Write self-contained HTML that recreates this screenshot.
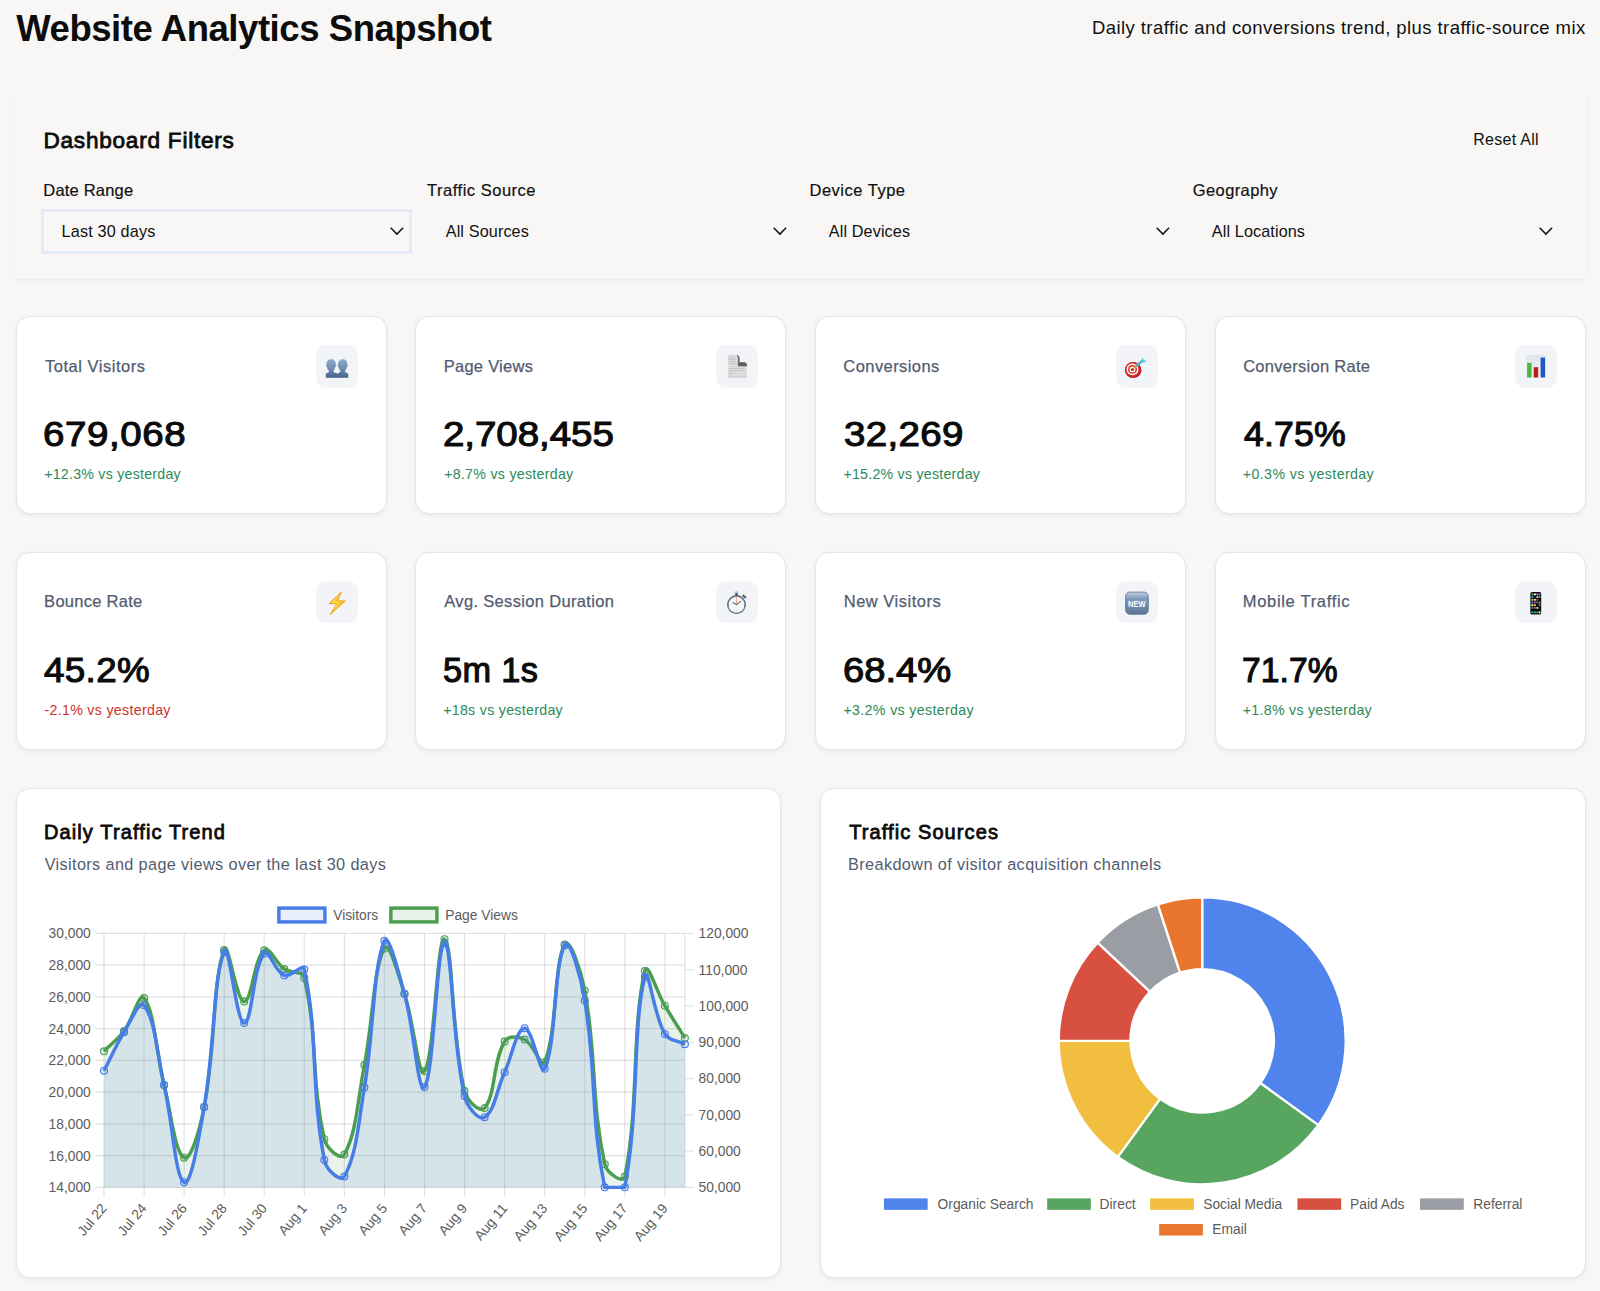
<!DOCTYPE html>
<html><head><meta charset="utf-8"><title>Website Analytics Snapshot</title>
<style>
*{box-sizing:border-box;margin:0;padding:0}
html,body{width:1600px;height:1291px;overflow:hidden;background:#f8f7f5;font-family:"Liberation Sans",sans-serif}
.t{position:absolute;line-height:1;white-space:nowrap}
.a{position:absolute}
.panel{position:absolute;background:#f8f7f5;box-shadow:0 1px 3px rgba(0,0,0,0.05)}
.card{position:absolute;background:#fff;border:1px solid #e6e6e6;border-radius:14px;box-shadow:0 1.5px 4px rgba(0,0,0,0.06)}
.ibox{position:absolute;width:42px;height:42.6px;border-radius:10px;background:#f2f4f7}
svg text{font-family:"Liberation Sans",sans-serif}
</style></head>
<body>
<div class="t" id="x0" style="top:10.50px;font-size:36.5px;color:#0d0d0d;left:16.19px;font-weight:700;letter-spacing:-0.442px;">Website Analytics Snapshot</div>
<div class="t" id="x1" style="top:19.24px;font-size:18.5px;color:#111;left:1091.99px;letter-spacing:0.425px;">Daily traffic and conversions trend, plus traffic-source mix</div>
<div class="panel" style="left:15px;top:92.5px;width:1571.5px;height:186.7px;"></div>
<div class="t" id="x2" style="top:129.87px;font-size:22.6px;color:#0d0d0d;left:43.44px;letter-spacing:0.759px;-webkit-text-stroke:0.8px #0d0d0d;paint-order:stroke fill;">Dashboard Filters</div>
<div class="t" id="x3" style="top:132.46px;font-size:16px;color:#111;left:1473.26px;letter-spacing:0.276px;">Reset All</div>
<div class="t" id="x4" style="top:182.03px;font-size:16.5px;color:#111;left:43.36px;letter-spacing:0.191px;-webkit-text-stroke:0.2px #111;">Date Range</div>
<div class="t" id="x5" style="top:223.29px;font-size:16.2px;color:#111;left:61.56px;letter-spacing:0.183px;">Last 30 days</div>
<svg class="a" style="left:389.5px;top:226px" width="14" height="10" viewBox="0 0 14 10"><path d="M0.7 1.7 L6.9 8.1 L13.1 1.7" fill="none" stroke="#111" stroke-width="1.45"/></svg>
<div class="t" id="x6" style="top:182.03px;font-size:16.5px;color:#111;left:427.12px;letter-spacing:0.511px;-webkit-text-stroke:0.2px #111;">Traffic Source</div>
<div class="t" id="x7" style="top:223.29px;font-size:16.2px;color:#111;left:445.73px;letter-spacing:0.125px;">All Sources</div>
<svg class="a" style="left:772.5px;top:226px" width="14" height="10" viewBox="0 0 14 10"><path d="M0.7 1.7 L6.9 8.1 L13.1 1.7" fill="none" stroke="#111" stroke-width="1.45"/></svg>
<div class="t" id="x8" style="top:182.03px;font-size:16.5px;color:#111;left:809.47px;letter-spacing:0.504px;-webkit-text-stroke:0.2px #111;">Device Type</div>
<div class="t" id="x9" style="top:223.29px;font-size:16.2px;color:#111;left:828.83px;letter-spacing:0.115px;">All Devices</div>
<svg class="a" style="left:1155.6px;top:226px" width="14" height="10" viewBox="0 0 14 10"><path d="M0.7 1.7 L6.9 8.1 L13.1 1.7" fill="none" stroke="#111" stroke-width="1.45"/></svg>
<div class="t" id="x10" style="top:182.03px;font-size:16.5px;color:#111;left:1192.77px;letter-spacing:0.395px;-webkit-text-stroke:0.2px #111;">Geography</div>
<div class="t" id="x11" style="top:223.29px;font-size:16.2px;color:#111;left:1211.87px;letter-spacing:0.109px;">All Locations</div>
<svg class="a" style="left:1538.6px;top:226px" width="14" height="10" viewBox="0 0 14 10"><path d="M0.7 1.7 L6.9 8.1 L13.1 1.7" fill="none" stroke="#111" stroke-width="1.45"/></svg>
<div class="a" style="left:40.5px;top:209px;width:371.1px;height:44.7px;border:3.3px solid #e3e9f7;"></div>
<div class="card" style="left:15.70px;top:316.20px;width:370.9px;height:198.1px;"></div>
<div class="t" id="x12" style="top:357.83px;font-size:16.5px;color:#535c6f;left:44.92px;letter-spacing:0.526px;-webkit-text-stroke:0.25px #535c6f;">Total Visitors</div>
<div class="t" id="x13" style="top:416.47px;font-size:35px;color:#0b0b0b;left:43.36px;letter-spacing:0.518px;-webkit-text-stroke:1.1px #0b0b0b;paint-order:stroke fill;transform:scaleX(1.1);transform-origin:0 0;">679,068</div>
<div class="t" id="x14" style="top:467.38px;font-size:14.2px;color:#2b8a57;left:44.14px;letter-spacing:0.249px;">+12.3% vs yesterday</div>
<div class="ibox" style="left:316.10px;top:345.30px;"></div>
<div class="a" style="left:316.10px;top:345.30px;line-height:0"><svg width="42" height="42" viewBox="0 0 42 42"><defs><linearGradient id="gu" x1="0" y1="0" x2="0" y2="1"><stop offset="0" stop-color="#8eaacb"/><stop offset="0.55" stop-color="#6d8bb0"/><stop offset="1" stop-color="#43618a"/></linearGradient></defs>
<g fill="url(#gu)">
<path d="M15.1 14.3 C18 14.3 19.8 16.4 19.8 19.2 C19.8 19.8 20.3 20 20.2 20.6 C20.1 21.3 19.6 21.4 19.4 21.9 C18.8 23.9 17.9 25 17.6 25.6 L17.6 26.8 C18.2 27.6 19.5 28 21 28.2 L21 32.8 L9.8 32.8 L9.8 28.6 C10.6 28.1 11.8 27.7 12.8 26.9 L12.8 25.6 C12.3 25 11.4 23.9 10.8 21.9 C10.6 21.4 10.1 21.3 10 20.6 C9.9 20 10.4 19.8 10.4 19.2 C10.4 16.4 12.2 14.3 15.1 14.3 Z"/>
<path d="M26.7 14.3 C29.6 14.3 31.4 16.4 31.4 19.2 C31.4 19.8 31.9 20 31.8 20.6 C31.7 21.3 31.2 21.4 31 21.9 C30.4 23.9 29.5 25 29.2 25.6 L29.2 26.9 C30.2 27.7 31.4 28.1 32.2 28.6 L32.2 32.8 L19.5 32.8 L19.5 29.2 C21.2 28.6 23.3 27.9 24.4 26.8 L24.4 25.6 C23.9 25 23 23.9 22.4 21.9 C22.2 21.4 21.7 21.3 21.6 20.6 C21.5 20 22 19.8 22 19.2 C22 16.4 23.8 14.3 26.7 14.3 Z"/>
</g></svg></div>
<div class="card" style="left:415.40px;top:316.20px;width:370.9px;height:198.1px;"></div>
<div class="t" id="x15" style="top:357.83px;font-size:16.5px;color:#535c6f;left:443.71px;letter-spacing:0.262px;-webkit-text-stroke:0.25px #535c6f;">Page Views</div>
<div class="t" id="x16" style="top:416.47px;font-size:35px;color:#0b0b0b;left:442.53px;letter-spacing:-0.054px;-webkit-text-stroke:1.1px #0b0b0b;paint-order:stroke fill;transform:scaleX(1.1);transform-origin:0 0;">2,708,455</div>
<div class="t" id="x17" style="top:467.38px;font-size:14.2px;color:#2b8a57;left:444.15px;letter-spacing:0.283px;">+8.7% vs yesterday</div>
<div class="ibox" style="left:715.80px;top:345.30px;"></div>
<div class="a" style="left:715.80px;top:345.30px;line-height:0"><svg width="42" height="42" viewBox="0 0 42 42"><defs><linearGradient id="gp" x1="0" y1="0" x2="1" y2="0"><stop offset="0" stop-color="#9a9a9a"/><stop offset="1" stop-color="#555"/></linearGradient></defs>
<path d="M11.9 9.8 L20.6 9.8 Q23 10 23.3 13 L23.3 17.2 L28.5 17.2 Q30.8 17.6 30.8 20 L30.8 32.5 L11.9 32.5 Z" fill="#dcdcdc"/>
<path d="M20.3 9.8 Q23.3 9.9 23.6 13.2 L23.6 21.2 L21.8 21.2 L21.8 13.2 Q21.6 11 20.3 9.8 Z" fill="url(#gp)"/>
<path d="M23.3 17.2 L28.3 17.2 Q30.8 17.4 31 20.8 L31 21.2 L23.3 21.2 Z" fill="#5e5e5e"/>
<g stroke="#bdbdbd" stroke-width="0.7"><line x1="13" y1="12.5" x2="19.5" y2="12.5"/><line x1="13" y1="14.5" x2="20" y2="14.5"/><line x1="13" y1="16.5" x2="20" y2="16.5"/><line x1="13" y1="18.5" x2="20" y2="18.5"/><line x1="13" y1="23.5" x2="29" y2="23.5"/><line x1="13" y1="25.5" x2="28" y2="25.5"/><line x1="13" y1="28.5" x2="17" y2="28.5"/></g>
<rect x="11.9" y="31.6" width="18.9" height="0.9" fill="#c8c8c8"/></svg></div>
<div class="card" style="left:815.10px;top:316.20px;width:370.9px;height:198.1px;"></div>
<div class="t" id="x18" style="top:357.83px;font-size:16.5px;color:#535c6f;left:843.37px;letter-spacing:0.423px;-webkit-text-stroke:0.25px #535c6f;">Conversions</div>
<div class="t" id="x19" style="top:416.47px;font-size:35px;color:#0b0b0b;left:843.72px;letter-spacing:0.305px;-webkit-text-stroke:1.1px #0b0b0b;paint-order:stroke fill;transform:scaleX(1.1);transform-origin:0 0;">32,269</div>
<div class="t" id="x20" style="top:467.38px;font-size:14.2px;color:#2b8a57;left:843.43px;letter-spacing:0.241px;">+15.2% vs yesterday</div>
<div class="ibox" style="left:1115.50px;top:345.30px;"></div>
<div class="a" style="left:1115.50px;top:345.30px;line-height:0"><svg width="42" height="42" viewBox="0 0 42 42"><g transform="translate(-0.6,0.5)"><ellipse cx="17.8" cy="24.6" rx="8.3" ry="8" fill="#b81818"/><ellipse cx="17.3" cy="24.1" rx="7.6" ry="7.4" fill="#d42a2a"/>
<ellipse cx="17.1" cy="23.9" rx="6" ry="5.8" fill="#fff"/><ellipse cx="17.1" cy="23.9" rx="4.5" ry="4.3" fill="#d42a2a"/><ellipse cx="17.1" cy="23.9" rx="3" ry="2.9" fill="#fff"/><ellipse cx="17.1" cy="23.9" rx="1.6" ry="1.5" fill="#c81e1e"/>
<path d="M17.6 23.4 L22.2 19.2" stroke="#e8b030" stroke-width="1.3"/><path d="M21.4 20 L26.3 15.8" stroke="#56b6c6" stroke-width="2.6" stroke-linecap="round"/>
<path d="M25.2 16.4 L27.3 11.8 L28.3 14.8 L31.8 15.6 L26.6 17.6 Z" fill="#5ec0d0"/></g></svg></div>
<div class="card" style="left:1214.80px;top:316.20px;width:370.9px;height:198.1px;"></div>
<div class="t" id="x21" style="top:357.83px;font-size:16.5px;color:#535c6f;left:1243.15px;letter-spacing:0.285px;-webkit-text-stroke:0.25px #535c6f;">Conversion Rate</div>
<div class="t" id="x22" style="top:416.47px;font-size:35px;color:#0b0b0b;left:1243.82px;letter-spacing:0.149px;-webkit-text-stroke:1.1px #0b0b0b;paint-order:stroke fill;transform:scaleX(1.02);transform-origin:0 0;">4.75%</div>
<div class="t" id="x23" style="top:467.38px;font-size:14.2px;color:#2b8a57;left:1242.81px;letter-spacing:0.394px;">+0.3% vs yesterday</div>
<div class="ibox" style="left:1515.20px;top:345.30px;"></div>
<div class="a" style="left:1515.20px;top:345.30px;line-height:0"><svg width="42" height="42" viewBox="0 0 42 42"><defs><linearGradient id="gb" x1="0" y1="0" x2="0" y2="1"><stop offset="0" stop-color="#dde5ee"/><stop offset="1" stop-color="#eef2f6"/></linearGradient></defs>
<rect x="11.1" y="9.8" width="19.4" height="23.2" fill="url(#gb)"/>
<rect x="12.1" y="17.9" width="4.5" height="14.6" fill="#4cb83c"/><rect x="18.7" y="22.2" width="4.5" height="10.3" fill="#b52018"/><rect x="25.6" y="12.6" width="4.5" height="19.9" fill="#2057c6"/></svg></div>
<div class="card" style="left:15.70px;top:551.50px;width:370.9px;height:198.1px;"></div>
<div class="t" id="x24" style="top:593.03px;font-size:16.5px;color:#535c6f;left:44.12px;letter-spacing:0.270px;-webkit-text-stroke:0.25px #535c6f;">Bounce Rate</div>
<div class="t" id="x25" style="top:651.67px;font-size:35px;color:#0b0b0b;left:43.82px;letter-spacing:0.343px;-webkit-text-stroke:1.1px #0b0b0b;paint-order:stroke fill;transform:scaleX(1.05);transform-origin:0 0;">45.2%</div>
<div class="t" id="x26" style="top:702.58px;font-size:14.2px;color:#cf2f2a;left:44.46px;letter-spacing:0.314px;">-2.1% vs yesterday</div>
<div class="ibox" style="left:316.10px;top:580.50px;"></div>
<div class="a" style="left:316.10px;top:580.50px;line-height:0"><svg width="42" height="42" viewBox="0 0 42 42"><path d="M25.4 10.9 L13.1 22.7 L21.1 22.7 L14.1 33.5 L29.2 19.9 L21.6 19.9 Z" fill="#f9c724" stroke="#ee9e1a" stroke-width="1" stroke-linejoin="round"/>
<path d="M23.2 14.2 L16.6 21.4 L22.6 21.4 L18.9 27.6" fill="none" stroke="#fde68a" stroke-width="0.9" stroke-linejoin="round"/></svg></div>
<div class="card" style="left:415.40px;top:551.50px;width:370.9px;height:198.1px;"></div>
<div class="t" id="x27" style="top:593.03px;font-size:16.5px;color:#535c6f;left:444.30px;letter-spacing:0.329px;-webkit-text-stroke:0.25px #535c6f;">Avg. Session Duration</div>
<div class="t" id="x28" style="top:651.67px;font-size:35px;color:#0b0b0b;left:443.36px;letter-spacing:0.374px;-webkit-text-stroke:1.1px #0b0b0b;paint-order:stroke fill;transform:scaleX(0.98);transform-origin:0 0;">5m 1s</div>
<div class="t" id="x29" style="top:702.58px;font-size:14.2px;color:#2b8a57;left:443.16px;letter-spacing:0.300px;">+18s vs yesterday</div>
<div class="ibox" style="left:715.80px;top:580.50px;"></div>
<div class="a" style="left:715.80px;top:580.50px;line-height:0"><svg width="42" height="42" viewBox="0 0 42 42"><g transform="translate(-0.8,-0.9)"><rect x="19.6" y="11.2" width="3.4" height="2.2" rx="1" fill="#b4bcc8"/><rect x="20" y="13.2" width="2.6" height="1.8" fill="#3e4655"/>
<path d="M28.2 15.6 l1.8 1.6" stroke="#4e5868" stroke-width="2.2" stroke-linecap="round"/>
<circle cx="21.3" cy="24.5" r="9.5" fill="#5c6678"/><path d="M12.6 27 A9.5 9.5 0 0 0 30 27.5 L28.5 27 A8 8 0 0 1 14 26.6 Z" fill="#8fa3c0"/><circle cx="21.3" cy="24.5" r="7.9" fill="#f8f8f8"/>
<g stroke="#b8bec8" stroke-width="0.6"><line x1="21.3" y1="30.5" x2="21.3" y2="31.6"/><line x1="14.4" y1="24.5" x2="15.4" y2="24.5"/><line x1="27.2" y1="24.5" x2="28.2" y2="24.5"/></g>
<path d="M21.3 17.4 V24.6" stroke="#e89070" stroke-width="0.8"/><path d="M17.4 22.3 L21.3 24.6 L25.9 21" fill="none" stroke="#2b3240" stroke-width="0.9"/></g></svg></div>
<div class="card" style="left:815.10px;top:551.50px;width:370.9px;height:198.1px;"></div>
<div class="t" id="x30" style="top:593.03px;font-size:16.5px;color:#535c6f;left:843.72px;letter-spacing:0.505px;-webkit-text-stroke:0.25px #535c6f;">New Visitors</div>
<div class="t" id="x31" style="top:651.67px;font-size:35px;color:#0b0b0b;left:843.10px;letter-spacing:-0.022px;-webkit-text-stroke:1.1px #0b0b0b;paint-order:stroke fill;transform:scaleX(1.09);transform-origin:0 0;">68.4%</div>
<div class="t" id="x32" style="top:702.58px;font-size:14.2px;color:#2b8a57;left:843.43px;letter-spacing:0.358px;">+3.2% vs yesterday</div>
<div class="ibox" style="left:1115.50px;top:580.50px;"></div>
<div class="a" style="left:1115.50px;top:580.50px;line-height:0"><svg width="42" height="42" viewBox="0 0 42 42"><defs><linearGradient id="gn" x1="0" y1="0" x2="0" y2="1"><stop offset="0" stop-color="#c3d1e2"/><stop offset="0.3" stop-color="#7f9bbd"/><stop offset="1" stop-color="#5f7798"/></linearGradient></defs>
<rect x="9.6" y="11.1" width="22.7" height="22.2" rx="4.2" fill="url(#gn)" stroke="#4d6586" stroke-width="0.7"/>
<text x="12.0" y="25.8" font-family="Liberation Sans" font-weight="700" font-size="9.4" fill="#fff" textLength="17.6" lengthAdjust="spacingAndGlyphs">NEW</text></svg></div>
<div class="card" style="left:1214.80px;top:551.50px;width:370.9px;height:198.1px;"></div>
<div class="t" id="x33" style="top:593.03px;font-size:16.5px;color:#535c6f;left:1242.74px;letter-spacing:0.692px;-webkit-text-stroke:0.25px #535c6f;">Mobile Traffic</div>
<div class="t" id="x34" style="top:651.67px;font-size:35px;color:#0b0b0b;left:1241.93px;letter-spacing:0.121px;-webkit-text-stroke:1.1px #0b0b0b;paint-order:stroke fill;transform:scaleX(0.96);transform-origin:0 0;">71.7%</div>
<div class="t" id="x35" style="top:702.58px;font-size:14.2px;color:#2b8a57;left:1242.81px;letter-spacing:0.276px;">+1.8% vs yesterday</div>
<div class="ibox" style="left:1515.20px;top:580.50px;"></div>
<div class="a" style="left:1515.20px;top:580.50px;line-height:0"><svg width="42" height="42" viewBox="0 0 42 42"><rect x="15.4" y="10.9" width="10.8" height="22.6" rx="1.6" fill="#060606"/>
<g><rect x="16.4" y="12.4" width="1.9" height="1.9" fill="#3fc24a"/><rect x="18.9" y="12.4" width="1.9" height="1.9" fill="#fff"/><rect x="21.4" y="12.4" width="1.9" height="1.9" fill="#c084e0"/><rect x="23.8" y="12.4" width="1.6" height="1.9" fill="#9a9a9a"/>
<rect x="16.4" y="15.1" width="1.9" height="1.9" fill="#2a9fe0"/><rect x="21.4" y="15.1" width="1.9" height="1.9" fill="#d8c090"/><rect x="23.8" y="15.1" width="1.6" height="1.9" fill="#3ab8d8"/>
<rect x="16.4" y="17.8" width="1.9" height="1.9" fill="#e8c830"/><rect x="18.9" y="17.8" width="1.9" height="1.9" fill="#eee"/><rect x="21.4" y="17.8" width="1.9" height="1.9" fill="#d04a3a"/>
<rect x="16.4" y="20.5" width="1.9" height="1.9" fill="#22b0b0"/><rect x="18.9" y="20.5" width="1.9" height="1.9" fill="#d030c8"/><rect x="21.4" y="20.5" width="1.9" height="1.9" fill="#2a90d0"/><rect x="23.8" y="20.5" width="1.6" height="1.9" fill="#f08a10"/>
<rect x="16.4" y="23.2" width="1.9" height="1.9" fill="#eee"/><rect x="18.9" y="23.2" width="1.9" height="1.9" fill="#e8d030"/><rect x="23.8" y="23.2" width="1.6" height="1.9" fill="#888"/>
<rect x="16.4" y="25.9" width="1.9" height="1.9" fill="#2a90d0"/><rect x="18.9" y="25.9" width="1.9" height="1.9" fill="#d04a3a"/><rect x="21.4" y="25.9" width="1.9" height="1.9" fill="#ddd"/>
<rect x="16.4" y="30.4" width="1.9" height="1.9" fill="#3fc24a"/><rect x="18.9" y="30.4" width="1.9" height="1.9" fill="#35b0f0"/><rect x="21.4" y="30.4" width="1.9" height="1.9" fill="#3fc24a"/><rect x="23.8" y="30.4" width="1.6" height="1.9" fill="#fff"/></g></svg></div>
<div class="card" style="left:16.3px;top:787.9px;width:764.95px;height:489.9px;"></div>
<div class="card" style="left:819.5px;top:787.9px;width:766px;height:489.9px;"></div>
<div class="t" id="x36" style="top:822.47px;font-size:20.0px;color:#0b0b0b;left:43.92px;letter-spacing:1.124px;-webkit-text-stroke:0.8px #0d0d0d;paint-order:stroke fill;">Daily Traffic Trend</div>
<div class="t" id="x37" style="top:856.40px;font-size:16.3px;color:#535c6f;left:44.66px;letter-spacing:0.357px;">Visitors and page views over the last 30 days</div>
<div class="t" id="x38" style="top:822.47px;font-size:20.0px;color:#0b0b0b;left:849.22px;letter-spacing:1.092px;-webkit-text-stroke:0.8px #0d0d0d;paint-order:stroke fill;">Traffic Sources</div>
<div class="t" id="x39" style="top:856.40px;font-size:16.3px;color:#535c6f;left:847.97px;letter-spacing:0.385px;">Breakdown of visitor acquisition channels</div>
<svg class="a" style="left:0;top:0" width="1600" height="1291" viewBox="0 0 1600 1291">
<defs><clipPath id="ca"><rect x="102.00" y="931.40" width="584.90" height="258.00"/></clipPath></defs>
<line x1="95.5" y1="933.40" x2="684.9" y2="933.40" stroke="rgba(0,0,0,0.115)" stroke-width="1.15"/>
<text x="90.8" y="938.30" text-anchor="end" font-size="13.8" fill="#5c5c5c">30,000</text>
<line x1="95.5" y1="965.15" x2="684.9" y2="965.15" stroke="rgba(0,0,0,0.115)" stroke-width="1.15"/>
<text x="90.8" y="970.05" text-anchor="end" font-size="13.8" fill="#5c5c5c">28,000</text>
<line x1="95.5" y1="996.90" x2="684.9" y2="996.90" stroke="rgba(0,0,0,0.115)" stroke-width="1.15"/>
<text x="90.8" y="1001.80" text-anchor="end" font-size="13.8" fill="#5c5c5c">26,000</text>
<line x1="95.5" y1="1028.65" x2="684.9" y2="1028.65" stroke="rgba(0,0,0,0.115)" stroke-width="1.15"/>
<text x="90.8" y="1033.55" text-anchor="end" font-size="13.8" fill="#5c5c5c">24,000</text>
<line x1="95.5" y1="1060.40" x2="684.9" y2="1060.40" stroke="rgba(0,0,0,0.115)" stroke-width="1.15"/>
<text x="90.8" y="1065.30" text-anchor="end" font-size="13.8" fill="#5c5c5c">22,000</text>
<line x1="95.5" y1="1092.15" x2="684.9" y2="1092.15" stroke="rgba(0,0,0,0.115)" stroke-width="1.15"/>
<text x="90.8" y="1097.05" text-anchor="end" font-size="13.8" fill="#5c5c5c">20,000</text>
<line x1="95.5" y1="1123.90" x2="684.9" y2="1123.90" stroke="rgba(0,0,0,0.115)" stroke-width="1.15"/>
<text x="90.8" y="1128.80" text-anchor="end" font-size="13.8" fill="#5c5c5c">18,000</text>
<line x1="95.5" y1="1155.65" x2="684.9" y2="1155.65" stroke="rgba(0,0,0,0.115)" stroke-width="1.15"/>
<text x="90.8" y="1160.55" text-anchor="end" font-size="13.8" fill="#5c5c5c">16,000</text>
<line x1="95.5" y1="1187.40" x2="684.9" y2="1187.40" stroke="rgba(0,0,0,0.115)" stroke-width="1.15"/>
<text x="90.8" y="1192.30" text-anchor="end" font-size="13.8" fill="#5c5c5c">14,000</text>
<line x1="104.00" y1="933.4" x2="104.00" y2="1196.5" stroke="rgba(0,0,0,0.115)" stroke-width="1.15"/>
<text transform="translate(107.50,1208.6) rotate(-50)" text-anchor="end" font-size="13.8" fill="#5c5c5c">Jul 22</text>
<line x1="144.06" y1="933.4" x2="144.06" y2="1196.5" stroke="rgba(0,0,0,0.115)" stroke-width="1.15"/>
<text transform="translate(147.56,1208.6) rotate(-50)" text-anchor="end" font-size="13.8" fill="#5c5c5c">Jul 24</text>
<line x1="184.12" y1="933.4" x2="184.12" y2="1196.5" stroke="rgba(0,0,0,0.115)" stroke-width="1.15"/>
<text transform="translate(187.62,1208.6) rotate(-50)" text-anchor="end" font-size="13.8" fill="#5c5c5c">Jul 26</text>
<line x1="224.19" y1="933.4" x2="224.19" y2="1196.5" stroke="rgba(0,0,0,0.115)" stroke-width="1.15"/>
<text transform="translate(227.69,1208.6) rotate(-50)" text-anchor="end" font-size="13.8" fill="#5c5c5c">Jul 28</text>
<line x1="264.25" y1="933.4" x2="264.25" y2="1196.5" stroke="rgba(0,0,0,0.115)" stroke-width="1.15"/>
<text transform="translate(267.75,1208.6) rotate(-50)" text-anchor="end" font-size="13.8" fill="#5c5c5c">Jul 30</text>
<line x1="304.31" y1="933.4" x2="304.31" y2="1196.5" stroke="rgba(0,0,0,0.115)" stroke-width="1.15"/>
<text transform="translate(307.81,1208.6) rotate(-50)" text-anchor="end" font-size="13.8" fill="#5c5c5c">Aug 1</text>
<line x1="344.37" y1="933.4" x2="344.37" y2="1196.5" stroke="rgba(0,0,0,0.115)" stroke-width="1.15"/>
<text transform="translate(347.87,1208.6) rotate(-50)" text-anchor="end" font-size="13.8" fill="#5c5c5c">Aug 3</text>
<line x1="384.43" y1="933.4" x2="384.43" y2="1196.5" stroke="rgba(0,0,0,0.115)" stroke-width="1.15"/>
<text transform="translate(387.93,1208.6) rotate(-50)" text-anchor="end" font-size="13.8" fill="#5c5c5c">Aug 5</text>
<line x1="424.50" y1="933.4" x2="424.50" y2="1196.5" stroke="rgba(0,0,0,0.115)" stroke-width="1.15"/>
<text transform="translate(428.00,1208.6) rotate(-50)" text-anchor="end" font-size="13.8" fill="#5c5c5c">Aug 7</text>
<line x1="464.56" y1="933.4" x2="464.56" y2="1196.5" stroke="rgba(0,0,0,0.115)" stroke-width="1.15"/>
<text transform="translate(468.06,1208.6) rotate(-50)" text-anchor="end" font-size="13.8" fill="#5c5c5c">Aug 9</text>
<line x1="504.62" y1="933.4" x2="504.62" y2="1196.5" stroke="rgba(0,0,0,0.115)" stroke-width="1.15"/>
<text transform="translate(508.12,1208.6) rotate(-50)" text-anchor="end" font-size="13.8" fill="#5c5c5c">Aug 11</text>
<line x1="544.68" y1="933.4" x2="544.68" y2="1196.5" stroke="rgba(0,0,0,0.115)" stroke-width="1.15"/>
<text transform="translate(548.18,1208.6) rotate(-50)" text-anchor="end" font-size="13.8" fill="#5c5c5c">Aug 13</text>
<line x1="584.74" y1="933.4" x2="584.74" y2="1196.5" stroke="rgba(0,0,0,0.115)" stroke-width="1.15"/>
<text transform="translate(588.24,1208.6) rotate(-50)" text-anchor="end" font-size="13.8" fill="#5c5c5c">Aug 15</text>
<line x1="624.81" y1="933.4" x2="624.81" y2="1196.5" stroke="rgba(0,0,0,0.115)" stroke-width="1.15"/>
<text transform="translate(628.31,1208.6) rotate(-50)" text-anchor="end" font-size="13.8" fill="#5c5c5c">Aug 17</text>
<line x1="664.87" y1="933.4" x2="664.87" y2="1196.5" stroke="rgba(0,0,0,0.115)" stroke-width="1.15"/>
<text transform="translate(668.37,1208.6) rotate(-50)" text-anchor="end" font-size="13.8" fill="#5c5c5c">Aug 19</text>
<line x1="684.9" y1="933.4" x2="684.9" y2="1187.4" stroke="rgba(0,0,0,0.115)" stroke-width="1.15"/>
<line x1="684.9" y1="933.40" x2="694" y2="933.40" stroke="rgba(0,0,0,0.115)" stroke-width="1.15"/>
<text x="698.6" y="938.30" font-size="13.8" fill="#5c5c5c">120,000</text>
<line x1="684.9" y1="969.69" x2="694" y2="969.69" stroke="rgba(0,0,0,0.115)" stroke-width="1.15"/>
<text x="698.6" y="974.59" font-size="13.8" fill="#5c5c5c">110,000</text>
<line x1="684.9" y1="1005.97" x2="694" y2="1005.97" stroke="rgba(0,0,0,0.115)" stroke-width="1.15"/>
<text x="698.6" y="1010.87" font-size="13.8" fill="#5c5c5c">100,000</text>
<line x1="684.9" y1="1042.26" x2="694" y2="1042.26" stroke="rgba(0,0,0,0.115)" stroke-width="1.15"/>
<text x="698.6" y="1047.16" font-size="13.8" fill="#5c5c5c">90,000</text>
<line x1="684.9" y1="1078.54" x2="694" y2="1078.54" stroke="rgba(0,0,0,0.115)" stroke-width="1.15"/>
<text x="698.6" y="1083.44" font-size="13.8" fill="#5c5c5c">80,000</text>
<line x1="684.9" y1="1114.83" x2="694" y2="1114.83" stroke="rgba(0,0,0,0.115)" stroke-width="1.15"/>
<text x="698.6" y="1119.73" font-size="13.8" fill="#5c5c5c">70,000</text>
<line x1="684.9" y1="1151.11" x2="694" y2="1151.11" stroke="rgba(0,0,0,0.115)" stroke-width="1.15"/>
<text x="698.6" y="1156.01" font-size="13.8" fill="#5c5c5c">60,000</text>
<line x1="684.9" y1="1187.40" x2="694" y2="1187.40" stroke="rgba(0,0,0,0.115)" stroke-width="1.15"/>
<text x="698.6" y="1192.30" font-size="13.8" fill="#5c5c5c">50,000</text>
<g clip-path="url(#ca)">
<path d="M104.00,1051.30 C112.01,1043.18 117.21,1040.05 124.03,1031.00 C133.24,1018.77 139.23,991.58 144.06,998.10 C155.25,1013.18 155.41,1050.41 164.09,1085.00 C171.44,1114.25 174.82,1152.59 184.12,1157.70 C190.85,1161.39 200.05,1128.28 204.16,1107.00 C216.07,1045.20 212.31,981.28 224.19,950.00 C228.33,939.08 236.18,1001.44 244.22,1001.50 C252.21,1001.56 253.55,958.98 264.25,950.30 C269.58,945.98 275.39,962.83 284.28,969.00 C291.42,973.95 302.40,969.97 304.31,978.10 C318.42,1038.05 310.47,1078.11 324.34,1139.20 C326.50,1148.71 340.91,1161.01 344.37,1154.60 C356.94,1131.33 357.40,1101.04 364.40,1065.00 C373.43,1018.56 373.14,968.46 384.43,948.40 C389.17,939.98 398.32,974.99 404.47,993.80 C414.35,1024.07 418.50,1079.28 424.50,1071.10 C434.52,1057.44 437.07,935.49 444.53,939.20 C453.09,943.45 450.88,1033.37 464.56,1091.00 C466.91,1100.89 480.19,1113.43 484.59,1108.00 C496.22,1093.63 492.20,1062.74 504.62,1041.50 C508.22,1035.34 518.23,1036.22 524.65,1039.50 C534.26,1044.42 541.45,1069.67 544.68,1062.00 C557.48,1031.63 553.43,964.56 564.71,944.40 C569.46,935.92 581.17,970.81 584.74,990.40 C597.20,1058.73 590.65,1098.58 604.78,1164.20 C606.67,1173.02 623.17,1184.40 624.81,1176.50 C639.19,1107.08 631.42,1028.10 644.84,970.90 C647.45,959.78 656.64,991.91 664.87,1005.70 C672.66,1018.75 676.89,1025.08 684.90,1038.00 L684.9,1187.4 L104.0,1187.4 Z" fill="rgba(74,158,80,0.12)"/>
<path d="M104.00,1051.30 C112.01,1043.18 117.21,1040.05 124.03,1031.00 C133.24,1018.77 139.23,991.58 144.06,998.10 C155.25,1013.18 155.41,1050.41 164.09,1085.00 C171.44,1114.25 174.82,1152.59 184.12,1157.70 C190.85,1161.39 200.05,1128.28 204.16,1107.00 C216.07,1045.20 212.31,981.28 224.19,950.00 C228.33,939.08 236.18,1001.44 244.22,1001.50 C252.21,1001.56 253.55,958.98 264.25,950.30 C269.58,945.98 275.39,962.83 284.28,969.00 C291.42,973.95 302.40,969.97 304.31,978.10 C318.42,1038.05 310.47,1078.11 324.34,1139.20 C326.50,1148.71 340.91,1161.01 344.37,1154.60 C356.94,1131.33 357.40,1101.04 364.40,1065.00 C373.43,1018.56 373.14,968.46 384.43,948.40 C389.17,939.98 398.32,974.99 404.47,993.80 C414.35,1024.07 418.50,1079.28 424.50,1071.10 C434.52,1057.44 437.07,935.49 444.53,939.20 C453.09,943.45 450.88,1033.37 464.56,1091.00 C466.91,1100.89 480.19,1113.43 484.59,1108.00 C496.22,1093.63 492.20,1062.74 504.62,1041.50 C508.22,1035.34 518.23,1036.22 524.65,1039.50 C534.26,1044.42 541.45,1069.67 544.68,1062.00 C557.48,1031.63 553.43,964.56 564.71,944.40 C569.46,935.92 581.17,970.81 584.74,990.40 C597.20,1058.73 590.65,1098.58 604.78,1164.20 C606.67,1173.02 623.17,1184.40 624.81,1176.50 C639.19,1107.08 631.42,1028.10 644.84,970.90 C647.45,959.78 656.64,991.91 664.87,1005.70 C672.66,1018.75 676.89,1025.08 684.90,1038.00" fill="none" stroke="#4a9e50" stroke-width="3.4499999999999997" stroke-linejoin="round"/>
</g>
<circle cx="104.00" cy="1051.30" r="3.45" fill="rgba(74,158,80,0.12)" stroke="#4a9e50" stroke-width="1.15"/>
<circle cx="124.03" cy="1031.00" r="3.45" fill="rgba(74,158,80,0.12)" stroke="#4a9e50" stroke-width="1.15"/>
<circle cx="144.06" cy="998.10" r="3.45" fill="rgba(74,158,80,0.12)" stroke="#4a9e50" stroke-width="1.15"/>
<circle cx="164.09" cy="1085.00" r="3.45" fill="rgba(74,158,80,0.12)" stroke="#4a9e50" stroke-width="1.15"/>
<circle cx="184.12" cy="1157.70" r="3.45" fill="rgba(74,158,80,0.12)" stroke="#4a9e50" stroke-width="1.15"/>
<circle cx="204.16" cy="1107.00" r="3.45" fill="rgba(74,158,80,0.12)" stroke="#4a9e50" stroke-width="1.15"/>
<circle cx="224.19" cy="950.00" r="3.45" fill="rgba(74,158,80,0.12)" stroke="#4a9e50" stroke-width="1.15"/>
<circle cx="244.22" cy="1001.50" r="3.45" fill="rgba(74,158,80,0.12)" stroke="#4a9e50" stroke-width="1.15"/>
<circle cx="264.25" cy="950.30" r="3.45" fill="rgba(74,158,80,0.12)" stroke="#4a9e50" stroke-width="1.15"/>
<circle cx="284.28" cy="969.00" r="3.45" fill="rgba(74,158,80,0.12)" stroke="#4a9e50" stroke-width="1.15"/>
<circle cx="304.31" cy="978.10" r="3.45" fill="rgba(74,158,80,0.12)" stroke="#4a9e50" stroke-width="1.15"/>
<circle cx="324.34" cy="1139.20" r="3.45" fill="rgba(74,158,80,0.12)" stroke="#4a9e50" stroke-width="1.15"/>
<circle cx="344.37" cy="1154.60" r="3.45" fill="rgba(74,158,80,0.12)" stroke="#4a9e50" stroke-width="1.15"/>
<circle cx="364.40" cy="1065.00" r="3.45" fill="rgba(74,158,80,0.12)" stroke="#4a9e50" stroke-width="1.15"/>
<circle cx="384.43" cy="948.40" r="3.45" fill="rgba(74,158,80,0.12)" stroke="#4a9e50" stroke-width="1.15"/>
<circle cx="404.47" cy="993.80" r="3.45" fill="rgba(74,158,80,0.12)" stroke="#4a9e50" stroke-width="1.15"/>
<circle cx="424.50" cy="1071.10" r="3.45" fill="rgba(74,158,80,0.12)" stroke="#4a9e50" stroke-width="1.15"/>
<circle cx="444.53" cy="939.20" r="3.45" fill="rgba(74,158,80,0.12)" stroke="#4a9e50" stroke-width="1.15"/>
<circle cx="464.56" cy="1091.00" r="3.45" fill="rgba(74,158,80,0.12)" stroke="#4a9e50" stroke-width="1.15"/>
<circle cx="484.59" cy="1108.00" r="3.45" fill="rgba(74,158,80,0.12)" stroke="#4a9e50" stroke-width="1.15"/>
<circle cx="504.62" cy="1041.50" r="3.45" fill="rgba(74,158,80,0.12)" stroke="#4a9e50" stroke-width="1.15"/>
<circle cx="524.65" cy="1039.50" r="3.45" fill="rgba(74,158,80,0.12)" stroke="#4a9e50" stroke-width="1.15"/>
<circle cx="544.68" cy="1062.00" r="3.45" fill="rgba(74,158,80,0.12)" stroke="#4a9e50" stroke-width="1.15"/>
<circle cx="564.71" cy="944.40" r="3.45" fill="rgba(74,158,80,0.12)" stroke="#4a9e50" stroke-width="1.15"/>
<circle cx="584.74" cy="990.40" r="3.45" fill="rgba(74,158,80,0.12)" stroke="#4a9e50" stroke-width="1.15"/>
<circle cx="604.78" cy="1164.20" r="3.45" fill="rgba(74,158,80,0.12)" stroke="#4a9e50" stroke-width="1.15"/>
<circle cx="624.81" cy="1176.50" r="3.45" fill="rgba(74,158,80,0.12)" stroke="#4a9e50" stroke-width="1.15"/>
<circle cx="644.84" cy="970.90" r="3.45" fill="rgba(74,158,80,0.12)" stroke="#4a9e50" stroke-width="1.15"/>
<circle cx="664.87" cy="1005.70" r="3.45" fill="rgba(74,158,80,0.12)" stroke="#4a9e50" stroke-width="1.15"/>
<circle cx="684.90" cy="1038.00" r="3.45" fill="rgba(74,158,80,0.12)" stroke="#4a9e50" stroke-width="1.15"/>
<g clip-path="url(#ca)">
<path d="M104.00,1070.70 C112.01,1055.34 115.01,1047.03 124.03,1032.30 C131.03,1020.87 139.41,999.18 144.06,1005.30 C155.43,1020.26 156.83,1052.95 164.09,1085.00 C172.86,1123.71 175.14,1177.24 184.12,1182.20 C191.16,1186.08 198.83,1137.67 204.16,1107.10 C214.85,1045.71 213.30,975.14 224.19,952.30 C229.32,941.54 236.14,1022.84 244.22,1023.10 C252.16,1023.36 252.88,967.14 264.25,953.60 C268.90,948.06 274.88,971.67 284.28,975.40 C290.91,978.03 302.74,962.24 304.31,969.50 C318.76,1036.12 310.22,1087.15 324.34,1160.10 C326.25,1169.95 340.83,1182.92 344.37,1176.50 C356.85,1153.88 358.30,1123.44 364.40,1087.50 C374.32,1029.12 372.85,967.80 384.43,940.70 C388.87,933.40 398.49,971.96 404.47,993.80 C414.51,1030.52 418.14,1095.11 424.50,1087.10 C434.17,1074.91 436.75,941.57 444.53,943.30 C452.78,945.13 451.09,1037.52 464.56,1096.00 C467.11,1107.08 478.63,1120.74 484.59,1117.20 C494.65,1111.22 496.53,1090.17 504.62,1072.20 C512.56,1054.57 516.37,1028.92 524.65,1028.20 C532.39,1027.52 540.43,1077.50 544.68,1068.70 C556.45,1044.38 553.81,963.93 564.71,945.40 C569.84,936.69 580.93,977.55 584.74,1000.60 C596.95,1074.31 590.30,1119.82 604.78,1187.30 C606.32,1187.40 623.42,1187.40 624.81,1187.30 C639.44,1110.51 632.37,1024.84 644.84,977.10 C648.39,963.48 653.21,1014.37 664.87,1033.90 C669.23,1041.21 676.89,1040.08 684.90,1044.20 L684.9,1187.4 L104.0,1187.4 Z" fill="rgba(70,125,231,0.12)"/>
<path d="M104.00,1070.70 C112.01,1055.34 115.01,1047.03 124.03,1032.30 C131.03,1020.87 139.41,999.18 144.06,1005.30 C155.43,1020.26 156.83,1052.95 164.09,1085.00 C172.86,1123.71 175.14,1177.24 184.12,1182.20 C191.16,1186.08 198.83,1137.67 204.16,1107.10 C214.85,1045.71 213.30,975.14 224.19,952.30 C229.32,941.54 236.14,1022.84 244.22,1023.10 C252.16,1023.36 252.88,967.14 264.25,953.60 C268.90,948.06 274.88,971.67 284.28,975.40 C290.91,978.03 302.74,962.24 304.31,969.50 C318.76,1036.12 310.22,1087.15 324.34,1160.10 C326.25,1169.95 340.83,1182.92 344.37,1176.50 C356.85,1153.88 358.30,1123.44 364.40,1087.50 C374.32,1029.12 372.85,967.80 384.43,940.70 C388.87,933.40 398.49,971.96 404.47,993.80 C414.51,1030.52 418.14,1095.11 424.50,1087.10 C434.17,1074.91 436.75,941.57 444.53,943.30 C452.78,945.13 451.09,1037.52 464.56,1096.00 C467.11,1107.08 478.63,1120.74 484.59,1117.20 C494.65,1111.22 496.53,1090.17 504.62,1072.20 C512.56,1054.57 516.37,1028.92 524.65,1028.20 C532.39,1027.52 540.43,1077.50 544.68,1068.70 C556.45,1044.38 553.81,963.93 564.71,945.40 C569.84,936.69 580.93,977.55 584.74,1000.60 C596.95,1074.31 590.30,1119.82 604.78,1187.30 C606.32,1187.40 623.42,1187.40 624.81,1187.30 C639.44,1110.51 632.37,1024.84 644.84,977.10 C648.39,963.48 653.21,1014.37 664.87,1033.90 C669.23,1041.21 676.89,1040.08 684.90,1044.20" fill="none" stroke="#467de7" stroke-width="3.4499999999999997" stroke-linejoin="round"/>
</g>
<circle cx="104.00" cy="1070.70" r="3.45" fill="rgba(70,125,231,0.12)" stroke="#467de7" stroke-width="1.15"/>
<circle cx="124.03" cy="1032.30" r="3.45" fill="rgba(70,125,231,0.12)" stroke="#467de7" stroke-width="1.15"/>
<circle cx="144.06" cy="1005.30" r="3.45" fill="rgba(70,125,231,0.12)" stroke="#467de7" stroke-width="1.15"/>
<circle cx="164.09" cy="1085.00" r="3.45" fill="rgba(70,125,231,0.12)" stroke="#467de7" stroke-width="1.15"/>
<circle cx="184.12" cy="1182.20" r="3.45" fill="rgba(70,125,231,0.12)" stroke="#467de7" stroke-width="1.15"/>
<circle cx="204.16" cy="1107.10" r="3.45" fill="rgba(70,125,231,0.12)" stroke="#467de7" stroke-width="1.15"/>
<circle cx="224.19" cy="952.30" r="3.45" fill="rgba(70,125,231,0.12)" stroke="#467de7" stroke-width="1.15"/>
<circle cx="244.22" cy="1023.10" r="3.45" fill="rgba(70,125,231,0.12)" stroke="#467de7" stroke-width="1.15"/>
<circle cx="264.25" cy="953.60" r="3.45" fill="rgba(70,125,231,0.12)" stroke="#467de7" stroke-width="1.15"/>
<circle cx="284.28" cy="975.40" r="3.45" fill="rgba(70,125,231,0.12)" stroke="#467de7" stroke-width="1.15"/>
<circle cx="304.31" cy="969.50" r="3.45" fill="rgba(70,125,231,0.12)" stroke="#467de7" stroke-width="1.15"/>
<circle cx="324.34" cy="1160.10" r="3.45" fill="rgba(70,125,231,0.12)" stroke="#467de7" stroke-width="1.15"/>
<circle cx="344.37" cy="1176.50" r="3.45" fill="rgba(70,125,231,0.12)" stroke="#467de7" stroke-width="1.15"/>
<circle cx="364.40" cy="1087.50" r="3.45" fill="rgba(70,125,231,0.12)" stroke="#467de7" stroke-width="1.15"/>
<circle cx="384.43" cy="940.70" r="3.45" fill="rgba(70,125,231,0.12)" stroke="#467de7" stroke-width="1.15"/>
<circle cx="404.47" cy="993.80" r="3.45" fill="rgba(70,125,231,0.12)" stroke="#467de7" stroke-width="1.15"/>
<circle cx="424.50" cy="1087.10" r="3.45" fill="rgba(70,125,231,0.12)" stroke="#467de7" stroke-width="1.15"/>
<circle cx="444.53" cy="943.30" r="3.45" fill="rgba(70,125,231,0.12)" stroke="#467de7" stroke-width="1.15"/>
<circle cx="464.56" cy="1096.00" r="3.45" fill="rgba(70,125,231,0.12)" stroke="#467de7" stroke-width="1.15"/>
<circle cx="484.59" cy="1117.20" r="3.45" fill="rgba(70,125,231,0.12)" stroke="#467de7" stroke-width="1.15"/>
<circle cx="504.62" cy="1072.20" r="3.45" fill="rgba(70,125,231,0.12)" stroke="#467de7" stroke-width="1.15"/>
<circle cx="524.65" cy="1028.20" r="3.45" fill="rgba(70,125,231,0.12)" stroke="#467de7" stroke-width="1.15"/>
<circle cx="544.68" cy="1068.70" r="3.45" fill="rgba(70,125,231,0.12)" stroke="#467de7" stroke-width="1.15"/>
<circle cx="564.71" cy="945.40" r="3.45" fill="rgba(70,125,231,0.12)" stroke="#467de7" stroke-width="1.15"/>
<circle cx="584.74" cy="1000.60" r="3.45" fill="rgba(70,125,231,0.12)" stroke="#467de7" stroke-width="1.15"/>
<circle cx="604.78" cy="1187.30" r="3.45" fill="rgba(70,125,231,0.12)" stroke="#467de7" stroke-width="1.15"/>
<circle cx="624.81" cy="1187.30" r="3.45" fill="rgba(70,125,231,0.12)" stroke="#467de7" stroke-width="1.15"/>
<circle cx="644.84" cy="977.10" r="3.45" fill="rgba(70,125,231,0.12)" stroke="#467de7" stroke-width="1.15"/>
<circle cx="664.87" cy="1033.90" r="3.45" fill="rgba(70,125,231,0.12)" stroke="#467de7" stroke-width="1.15"/>
<circle cx="684.90" cy="1044.20" r="3.45" fill="rgba(70,125,231,0.12)" stroke="#467de7" stroke-width="1.15"/>
<rect x="278.9" y="908.1" width="46" height="13.8" fill="rgba(75,127,232,0.12)" stroke="#467de7" stroke-width="3.4499999999999997"/>
<text x="333.2" y="919.9" font-size="13.8" fill="#5c5c5c">Visitors</text>
<rect x="390.9" y="908.1" width="46" height="13.8" fill="rgba(76,158,82,0.12)" stroke="#4a9e50" stroke-width="3.4499999999999997"/>
<text x="445.2" y="919.9" font-size="13.8" fill="#5c5c5c">Page Views</text>
</svg>
<svg class="a" style="left:0;top:0" width="1600" height="1291" viewBox="0 0 1600 1291">
<path d="M1202.20,897.35 A143.45,143.45 0 0 1 1318.25,1125.12 L1260.22,1082.96 A71.72,71.72 0 0 0 1202.20,969.08 Z" fill="#5083eb" stroke="#fff" stroke-width="2.30" stroke-linejoin="bevel"/>
<path d="M1318.25,1125.12 A143.45,143.45 0 0 1 1117.88,1156.85 L1160.04,1098.82 A71.72,71.72 0 0 0 1260.22,1082.96 Z" fill="#57a55e" stroke="#fff" stroke-width="2.30" stroke-linejoin="bevel"/>
<path d="M1117.88,1156.85 A143.45,143.45 0 0 1 1058.75,1040.80 L1130.48,1040.80 A71.72,71.72 0 0 0 1160.04,1098.82 Z" fill="#f1be40" stroke="#fff" stroke-width="2.30" stroke-linejoin="bevel"/>
<path d="M1058.75,1040.80 A143.45,143.45 0 0 1 1097.63,942.60 L1149.92,991.70 A71.72,71.72 0 0 0 1130.48,1040.80 Z" fill="#d85040" stroke="#fff" stroke-width="2.30" stroke-linejoin="bevel"/>
<path d="M1097.63,942.60 A143.45,143.45 0 0 1 1157.87,904.37 L1180.04,972.59 A71.72,71.72 0 0 0 1149.92,991.70 Z" fill="#9a9da4" stroke="#fff" stroke-width="2.30" stroke-linejoin="bevel"/>
<path d="M1157.87,904.37 A143.45,143.45 0 0 1 1202.20,897.35 L1202.20,969.08 A71.72,71.72 0 0 0 1180.04,972.59 Z" fill="#ea752c" stroke="#fff" stroke-width="2.30" stroke-linejoin="bevel"/>
<rect x="882.80" y="1197.2" width="46" height="13.8" fill="#5083eb" stroke="#fff" stroke-width="2.30"/>
<text x="937.60" y="1208.5" font-size="13.8" fill="#5c5c5c">Organic Search</text>
<rect x="1046.00" y="1197.2" width="46" height="13.8" fill="#57a55e" stroke="#fff" stroke-width="2.30"/>
<text x="1099.60" y="1208.5" font-size="13.8" fill="#5c5c5c">Direct</text>
<rect x="1149.00" y="1197.2" width="46" height="13.8" fill="#f1be40" stroke="#fff" stroke-width="2.30"/>
<text x="1203.20" y="1208.5" font-size="13.8" fill="#5c5c5c">Social Media</text>
<rect x="1296.30" y="1197.2" width="46" height="13.8" fill="#d85040" stroke="#fff" stroke-width="2.30"/>
<text x="1350.00" y="1208.5" font-size="13.8" fill="#5c5c5c">Paid Ads</text>
<rect x="1418.90" y="1197.2" width="46" height="13.8" fill="#9a9da4" stroke="#fff" stroke-width="2.30"/>
<text x="1473.30" y="1208.5" font-size="13.8" fill="#5c5c5c">Referral</text>
<rect x="1158" y="1222.9" width="46" height="13.8" fill="#ea752c" stroke="#fff" stroke-width="2.30"/>
<text x="1212.3" y="1234.2" font-size="13.8" fill="#5c5c5c">Email</text>
</svg>
</body></html>
